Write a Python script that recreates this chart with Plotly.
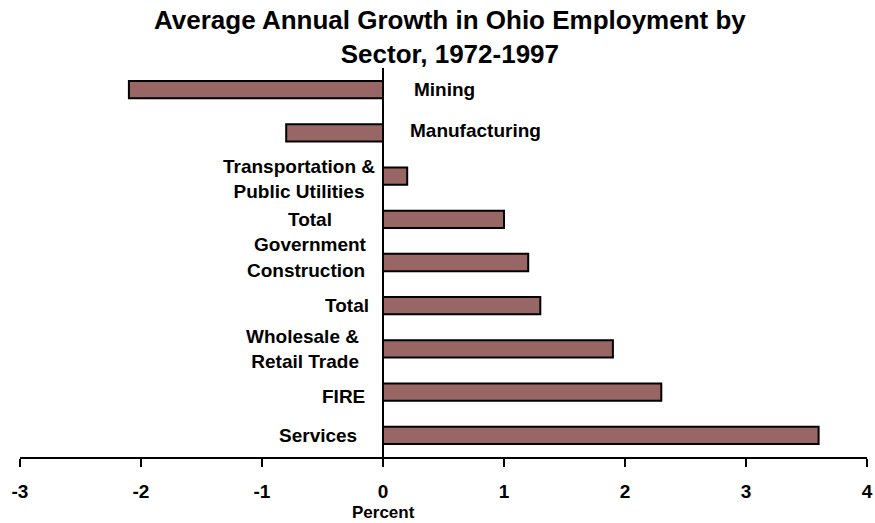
import plotly.graph_objects as go

# Average annual employment growth by sector, Ohio 1972-1997 (percent)
sectors = ["Mining", "Manufacturing", "Transportation &<br>Public Utilities",
           "Total<br>Government", "Construction", "Total",
           "Wholesale &<br>Retail Trade", "FIRE", "Services"]
growth = [-2.1, -0.8, 0.2, 1.0, 1.2, 1.3, 1.9, 2.3, 3.6]

tick_values = [-3, -2, -1, 0, 1, 2, 3, 4]
tick_labels = ["-3", "-2", "-1", "0", "1", "2", "3", "4"]

title_text = "Average Annual Growth in Ohio Employment by<br>Sector, 1972-1997"
axis_title = "Percent"

# Label placement relative to the zero line (pixels): (anchor, dx, dy)
label_place = {
    "Mining": ("left", 29, 0),
    "Manufacturing": ("left", 25, 2),
    "Transportation &<br>Public Utilities": ("center", -84, -3),
    "Total<br>Government": ("center", -73, -13),
    "Construction": ("center", -77, -8),
    "Total": ("center", -36, 0),
    "Wholesale &<br>Retail Trade": ("right", -22, 0),
    "FIRE": ("center", -40, -4),
    "Services": ("center", -65, 0),
}

font_family = "Liberation Sans, Arial, sans-serif"

fig = go.Figure(go.Bar(
    x=growth,
    y=sectors,
    orientation="h",
    width=0.4,
    marker=dict(color="#996666", line=dict(color="black", width=2)),
    hoverinfo="x+y",
))

# Sector names sit beside the zero line, opposite their bars
for name, val in zip(sectors, growth):
    anchor, dx, dy = label_place[name]
    fig.add_annotation(
        x=0, y=name, xref="x", yref="y",
        text="<b>" + name + "</b>",
        showarrow=False, xanchor=anchor, yanchor="middle",
        align=anchor, xshift=dx, yshift=dy,
        font=dict(family=font_family, size=19, color="black"),
    )

# Chart title above the plot area
fig.add_annotation(
    x=0.5, y=1, xref="paper", yref="paper",
    text="<b>" + title_text + "</b>",
    showarrow=False, xanchor="center", yanchor="bottom", align="center",
    xshift=6, yshift=-3,
    font=dict(family=font_family, size=26, color="black"),
)

# Axis title centred under the zero line
fig.add_annotation(
    x=0, y=0, xref="x", yref="paper",
    text="<b>" + axis_title + "</b>",
    showarrow=False, xanchor="center", yanchor="top", yshift=-44,
    font=dict(family=font_family, size=17, color="black"),
)

fig.update_layout(
    width=875, height=523,
    margin=dict(l=20, r=8, t=68, b=66),
    paper_bgcolor="white", plot_bgcolor="white",
    showlegend=False,
    xaxis=dict(
        range=[-3, 4], tickvals=tick_values,
        ticktext=["<b>" + t + "</b>" for t in tick_labels],
        automargin=False,
        showgrid=False, zeroline=True, zerolinecolor="black", zerolinewidth=2,
        showline=True, linecolor="black", linewidth=2,
        ticks="outside", ticklen=8, tickwidth=2, tickcolor="black",
        ticklabelstandoff=8,
        tickfont=dict(family=font_family, size=19, color="black"),
    ),
    yaxis=dict(
        categoryorder="array", categoryarray=sectors, autorange="reversed",
        showticklabels=False, showgrid=False, zeroline=False, showline=False,
        ticks="",
    ),
)

fig.write_html("out.html")
